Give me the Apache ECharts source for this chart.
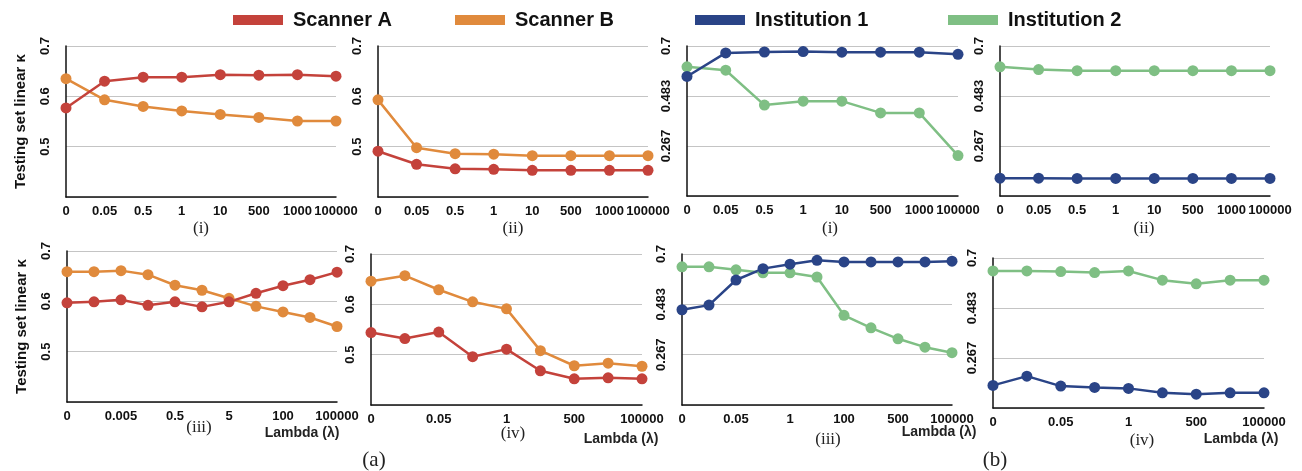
<!DOCTYPE html>
<html>
<head>
<meta charset="utf-8">
<script src="https://cdn.jsdelivr.net/npm/echarts@6/dist/echarts.min.js"></script>
<style>
  html, body { margin: 0; padding: 0; background: #fff; }
  #chart { width: 1302px; height: 471px; }
</style>
</head>
<body>
<div id="chart"></div>
<script>
// Lambda values on each category axis
const lambdaTop = ['0', '0.05', '0.5', '1', '10', '500', '1000', '100000'];
const lambdaAiii = ['0', '0.0005', '0.005', '0.05', '0.5', '1', '5', '10', '100', '1000', '100000'];
const lambdaIv = ['0', '0.005', '0.05', '0.5', '1', '10', '500', '1000', '100000'];
const lambdaBiii = ['0', '0.005', '0.05', '0.5', '1', '10', '100', '200', '500', '1000', '100000'];

// (a) scanner experiments: testing set linear kappa
const aiScannerA = [0.577, 0.630, 0.638, 0.638, 0.643, 0.642, 0.643, 0.640];
const aiScannerB = [0.635, 0.593, 0.580, 0.571, 0.564, 0.558, 0.551, 0.551];
const aiiScannerA = [0.491, 0.465, 0.456, 0.455, 0.453, 0.453, 0.453, 0.453];
const aiiScannerB = [0.593, 0.498, 0.486, 0.485, 0.482, 0.482, 0.482, 0.482];
const aiiiScannerA = [0.597, 0.599, 0.603, 0.592, 0.599, 0.589, 0.599, 0.616, 0.631, 0.643, 0.658];
const aiiiScannerB = [0.659, 0.659, 0.661, 0.653, 0.632, 0.622, 0.606, 0.590, 0.579, 0.568, 0.550];
const aivScannerA = [0.544, 0.532, 0.545, 0.496, 0.511, 0.468, 0.452, 0.454, 0.452];
const aivScannerB = [0.646, 0.657, 0.629, 0.605, 0.591, 0.508, 0.478, 0.483, 0.477];

// (b) institution experiments
const biInst1 = [0.568, 0.670, 0.674, 0.676, 0.673, 0.673, 0.673, 0.664];
const biInst2 = [0.610, 0.595, 0.444, 0.461, 0.461, 0.410, 0.410, 0.225];
const biiInst1 = [0.127, 0.127, 0.126, 0.126, 0.126, 0.126, 0.126, 0.126];
const biiInst2 = [0.610, 0.598, 0.593, 0.593, 0.593, 0.593, 0.593, 0.593];
const biiiInst1 = [0.460, 0.480, 0.588, 0.637, 0.656, 0.673, 0.666, 0.666, 0.666, 0.666, 0.669];
const biiiInst2 = [0.645, 0.645, 0.632, 0.619, 0.619, 0.601, 0.436, 0.382, 0.335, 0.299, 0.275];
const bivInst1 = [0.148, 0.188, 0.145, 0.139, 0.135, 0.116, 0.110, 0.116, 0.116];
const bivInst2 = [0.644, 0.644, 0.641, 0.637, 0.644, 0.604, 0.588, 0.604, 0.604];

const SANS = '"Liberation Sans", Arial, sans-serif';
const SERIF = '"Liberation Serif", "Times New Roman", serif';
const COLORS = {
  'Scanner A': '#c4423b',
  'Scanner B': '#e08a3c',
  'Institution 1': '#2a4487',
  'Institution 2': '#7fbf84'
};

// panel layout: grid box, axis categories, y-scale kind, series
const panels = [
  { box: [66, 46, 270, 151], cats: lambdaTop, every: 0, scale: 'a', yName: true,
    series: [['Scanner B', aiScannerB], ['Scanner A', aiScannerA]] },
  { box: [378, 46, 270, 151], cats: lambdaTop, every: 0, scale: 'a',
    series: [['Scanner B', aiiScannerB], ['Scanner A', aiiScannerA]] },
  { box: [687, 46, 271, 150], cats: lambdaTop, every: 0, scale: 'b',
    series: [['Institution 2', biInst2], ['Institution 1', biInst1]] },
  { box: [1000, 46, 270, 150], cats: lambdaTop, every: 0, scale: 'b',
    series: [['Institution 2', biiInst2], ['Institution 1', biiInst1]] },
  { box: [67, 251, 270, 151], cats: lambdaAiii, every: 1, scale: 'a', yName: true,
    series: [['Scanner B', aiiiScannerB], ['Scanner A', aiiiScannerA]] },
  { box: [371, 254, 271, 151], cats: lambdaIv, every: 1, scale: 'a',
    series: [['Scanner B', aivScannerB], ['Scanner A', aivScannerA]] },
  { box: [682, 254, 270, 151], cats: lambdaBiii, every: 1, scale: 'b',
    series: [['Institution 2', biiiInst2], ['Institution 1', biiiInst1]] },
  { box: [993, 258, 271, 150], cats: lambdaIv, every: 1, scale: 'b',
    series: [['Institution 2', bivInst2], ['Institution 1', bivInst1]] }
];

const grids = [], xAxes = [], yAxes = [], series = [];
panels.forEach((p, i) => {
  grids.push({ left: p.box[0], top: p.box[1], width: p.box[2], height: p.box[3],
               containLabel: false, outerBoundsMode: 'none' });
  xAxes.push({
    type: 'category', gridIndex: i, data: p.cats, boundaryGap: false,
    axisLine: { lineStyle: { color: '#111', width: 1.5 } },
    axisTick: { show: false },
    axisLabel: { interval: p.every, margin: 8, color: '#111', fontSize: 13,
                 fontWeight: 'bold', fontFamily: SANS },
    splitLine: { show: false }
  });
  const isA = p.scale === 'a';
  yAxes.push({
    type: 'value', gridIndex: i,
    min: isA ? 0.4 : 0.05, max: 0.7, interval: isA ? 0.1 : 0.65 / 3,
    name: p.yName ? 'Testing set linear \u03ba' : '',
    nameLocation: 'middle', nameGap: 38, nameRotate: 90,
    nameTextStyle: { fontSize: 15, fontWeight: 'bold', fontFamily: SANS, color: '#111' },
    axisLine: { show: true, lineStyle: { color: '#111', width: 1.5 } },
    axisTick: { show: false },
    axisLabel: { showMinLabel: false, rotate: 90, margin: 14, color: '#111', fontSize: 13,
                 fontWeight: 'bold', fontFamily: SANS,
                 formatter: v => String(+v.toFixed(isA ? 1 : 3)) },
    splitLine: { show: true, lineStyle: { color: '#c4c4c4', width: 1 } }
  });
  p.series.forEach(([name, values]) => {
    series.push({
      name, type: 'line', xAxisIndex: i, yAxisIndex: i, data: values,
      symbol: 'circle', symbolSize: 11, showSymbol: true,
      lineStyle: { color: COLORS[name], width: 2.5 },
      itemStyle: { color: COLORS[name] },
      emphasis: { disabled: true }, animation: false
    });
  });
});

const legendPos = [['Scanner A', 233], ['Scanner B', 455], ['Institution 1', 695], ['Institution 2', 948]];
const legends = legendPos.map(([name, left]) => ({
  data: [name], left, top: 10, padding: 0, icon: 'rect', itemWidth: 50, itemHeight: 10,
  selectedMode: false,
  textStyle: { fontSize: 20, fontWeight: 'bold', fontFamily: SANS, color: '#111', padding: [0, 0, 0, 5] }
}));

function label(text, x, y, font, size, weight) {
  return { type: 'text', x, y, silent: true,
    style: { text, fontSize: size, fontFamily: font, fontWeight: weight || 'normal',
             fill: '#222', align: 'center', verticalAlign: 'middle' } };
}

const graphics = [
  label('(i)', 201, 229, SERIF, 17), label('(ii)', 513, 229, SERIF, 17),
  label('(i)', 830, 229, SERIF, 17), label('(ii)', 1144, 229, SERIF, 17),
  label('(iii)', 199, 428, SERIF, 17), label('(iv)', 513, 434, SERIF, 17),
  label('(iii)', 828, 440, SERIF, 17), label('(iv)', 1142, 441, SERIF, 17),
  label('(a)', 374, 460, SERIF, 21), label('(b)', 995, 460, SERIF, 21),
  label('Lambda (\u03bb)', 302, 433, SANS, 14, 'bold'),
  label('Lambda (\u03bb)', 621, 439, SANS, 14, 'bold'),
  label('Lambda (\u03bb)', 939, 432, SANS, 14, 'bold'),
  label('Lambda (\u03bb)', 1241, 439, SANS, 14, 'bold')
];

const chart = echarts.init(document.getElementById('chart'), null, { renderer: 'canvas' });
chart.setOption({
  backgroundColor: '#ffffff',
  animation: false,
  legend: legends,
  grid: grids,
  xAxis: xAxes,
  yAxis: yAxes,
  series,
  graphic: graphics
});
</script>
</body>
</html>
